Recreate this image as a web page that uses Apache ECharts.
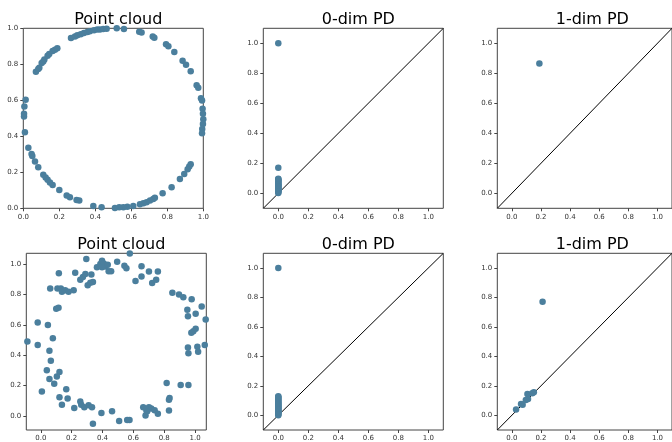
<!DOCTYPE html>
<html>
<head>
<meta charset="utf-8">
<script src="https://cdn.jsdelivr.net/npm/echarts@6/dist/echarts.min.js"></script>
<style>
  html, body { margin: 0; padding: 0; background: #fff; }
  #main { width: 672px; height: 442px; }
</style>
</head>
<body>
<div id="main"></div>
<script>
// point cloud on the circle (top row)
var cloudTop = [
  [0.070,0.759],[0.083,0.774],[0.089,0.781],[0.102,0.807],[0.111,0.816],[0.117,0.826],
  [0.135,0.848],[0.144,0.857],[0.163,0.874],[0.176,0.881],[0.189,0.889],[0.265,0.946],
  [0.287,0.955],[0.300,0.961],[0.319,0.967],[0.337,0.974],[0.356,0.980],[0.370,0.983],
  [0.393,0.989],[0.411,0.993],[0.426,0.994],[0.444,0.996],[0.463,0.998],[0.519,1.000],
  [0.559,0.996],[0.644,0.981],[0.657,0.976],[0.719,0.955],[0.728,0.948],[0.793,0.911],
  [0.806,0.900],[0.839,0.868],[0.885,0.820],[0.904,0.798],[0.930,0.761],[0.963,0.683],
  [0.972,0.670],[0.987,0.612],[0.993,0.599],[0.996,0.553],[0.998,0.525],[1.000,0.495],
  [0.998,0.469],[0.994,0.440],[0.993,0.417],[0.930,0.245],[0.922,0.232],[0.913,0.217],
  [0.894,0.191],[0.870,0.163],[0.824,0.117],[0.774,0.083],[0.731,0.059],[0.722,0.052],
  [0.704,0.043],[0.685,0.033],[0.667,0.028],[0.648,0.022],[0.611,0.013],[0.578,0.009],
  [0.556,0.006],[0.533,0.006],[0.509,0.002],[0.435,0.006],[0.389,0.013],[0.311,0.043],
  [0.296,0.046],[0.259,0.061],[0.241,0.071],[0.200,0.102],[0.163,0.130],[0.148,0.143],
  [0.135,0.158],[0.124,0.171],[0.111,0.186],[0.083,0.228],[0.065,0.260],[0.050,0.291],
  [0.046,0.302],[0.028,0.336],[0.009,0.423],[0.004,0.510],[0.004,0.525],[0.006,0.566],
  [0.013,0.603]
];

// noisy point cloud (bottom row)
var cloudBottom = [
  [-0.087,0.490],[-0.020,0.616],[-0.020,0.467],[0.046,0.600],[0.061,0.840],[0.078,0.512],
  [0.056,0.430],[0.065,0.363],[0.039,0.300],[0.056,0.242],[0.007,0.160],[0.087,0.212],
  [0.104,0.259],[0.121,0.289],[0.100,0.706],[0.115,0.713],[0.117,0.942],[0.108,0.840],
  [0.130,0.840],[0.137,0.819],[0.158,0.829],[0.180,0.819],[0.213,0.829],[0.121,0.123],
  [0.137,0.073],[0.165,0.175],[0.174,0.114],[0.217,0.052],[0.256,0.095],[0.262,0.073],
  [0.282,0.056],[0.310,0.069],[0.332,0.056],[0.338,-0.052],[0.393,0.019],[0.462,0.030],
  [0.508,-0.035],[0.560,-0.028],[0.575,-0.028],[0.223,0.944],[0.295,1.035],[0.256,0.898],
  [0.273,0.916],[0.289,0.937],[0.304,0.862],[0.321,0.879],[0.328,0.933],[0.338,0.883],
  [0.364,0.981],[0.386,1.002],[0.397,1.024],[0.408,1.006],[0.419,0.985],[0.434,0.998],
  [0.397,0.981],[0.440,0.955],[0.456,0.955],[0.495,1.017],[0.542,0.991],[0.555,0.974],
  [0.577,1.071],[0.614,0.890],[0.653,0.987],[0.653,0.920],[0.701,0.952],[0.722,0.877],
  [0.748,0.898],[0.759,0.952],[0.853,0.812],[0.896,0.801],[0.924,0.782],[0.978,0.769],
  [0.950,0.700],[0.954,0.657],[1.004,0.674],[1.043,0.721],[1.069,0.635],[1.004,0.575],
  [0.989,0.559],[0.976,0.549],[0.954,0.451],[0.957,0.413],[1.015,0.456],[1.020,0.423],
  [1.063,0.467],[0.816,0.216],[0.907,0.203],[0.957,0.203],[0.831,0.106],[0.835,0.117],
  [0.831,0.035],[0.664,0.056],[0.685,0.035],[0.679,0.002],[0.701,0.056],[0.716,0.048],
  [0.738,0.037],[0.759,0.013],[0.690,0.030]
];

// 0-dim persistence: births are all 0, these are the deaths
var pd0TopDeath = [0.002,0.008,0.012,0.018,0.021,0.027,0.031,0.036,0.042,0.047,0.050,
  0.056,0.061,0.066,0.072,0.078,0.083,0.088,0.093,0.097,0.171,1.0];
var pd0BottomDeath = [0.001,0.006,0.011,0.017,0.022,0.026,0.033,0.038,0.044,0.049,0.055,
  0.061,0.066,0.072,0.079,0.084,0.091,0.097,0.104,0.111,0.118,0.124,0.130,1.0];

// 1-dim persistence [birth, death]
var pd1Top = [[0.189,0.865]];
var pd1Bottom = [[0.029,0.040],[0.063,0.077],[0.074,0.071],[0.096,0.104],[0.107,0.144],
  [0.111,0.111],[0.140,0.149],[0.151,0.156],[0.211,0.771]];

var ticks = [0, 0.2, 0.4, 0.6, 0.8, 1.0];
var pdRange = [-0.1, 1.1];
var cloudBottomRange = [-0.094, 1.073];

var titles = ['Point cloud', '0-dim PD', '1-dim PD', 'Point cloud', '0-dim PD', '1-dim PD'];

var chart = echarts.init(document.getElementById('main'));

var dotColor = '#4b7f9d';
var frameColor = '#444';
var fontFam = 'DejaVu Sans';

var grids = [
  {left: 23.3, top: 28.3, width: 180, height: 180},
  {left: 263.3, top: 28.3, width: 180, height: 180},
  {left: 497.3, top: 28.3, width: 180, height: 180},
  {left: 26.3, top: 253.3, width: 180, height: 180},
  {left: 263.3, top: 253.3, width: 180, height: 180},
  {left: 497.3, top: 253.3, width: 180, height: 180}
];
var ranges = [[0, 1], pdRange, pdRange, cloudBottomRange, pdRange, pdRange];

function makeAxis(i, dim) {
  return {
    type: 'value',
    gridIndex: i,
    position: dim == 'x' ? 'bottom' : 'left',
    min: ranges[i][0],
    max: ranges[i][1],
    axisLine: {show: false, onZero: false},
    splitLine: {show: false},
    axisTick: {show: true, length: 3, customValues: ticks, lineStyle: {color: frameColor, width: 1}},
    axisLabel: {
      customValues: ticks,
      fontFamily: fontFam,
      fontSize: 7,
      color: '#333',
      margin: 5,
      formatter: function (v) { return v.toFixed(1); }
    }
  };
}

var xAxes = [], yAxes = [], titleList = [];
for (var i = 0; i < 6; i++) {
  grids[i].show = true;
  grids[i].borderColor = frameColor;
  grids[i].borderWidth = 1;
  grids[i].backgroundColor = 'transparent';
  xAxes.push(makeAxis(i, 'x'));
  yAxes.push(makeAxis(i, 'y'));
  titleList.push({
    text: titles[i],
    left: grids[i].left + 90,
    top: i < 3 ? 6.5 : 231.5,
    textAlign: 'center',
    textStyle: {fontFamily: fontFam, fontSize: 16, fontWeight: 'normal', color: '#000'}
  });
}

function dots(i, data) {
  return {
    type: 'scatter', xAxisIndex: i, yAxisIndex: i,
    data: data, symbolSize: 6.5,
    itemStyle: {color: dotColor, opacity: 1},
    z: 3
  };
}
function diag(i) {
  return {
    type: 'line', xAxisIndex: i, yAxisIndex: i,
    data: [[pdRange[0], pdRange[0]], [pdRange[1], pdRange[1]]],
    symbol: 'none',
    lineStyle: {color: '#000', width: 1},
    z: 2
  };
}

var option = {
  animation: false,
  backgroundColor: '#fff',
  title: titleList,
  grid: grids,
  xAxis: xAxes,
  yAxis: yAxes,
  series: [
    dots(0, cloudTop),
    dots(1, pd0TopDeath.map(function (d) { return [0, d]; })),
    diag(1),
    dots(2, pd1Top),
    diag(2),
    dots(3, cloudBottom),
    dots(4, pd0BottomDeath.map(function (d) { return [0, d]; })),
    diag(4),
    dots(5, pd1Bottom),
    diag(5)
  ]
};

chart.setOption(option);
</script>
</body>
</html>
